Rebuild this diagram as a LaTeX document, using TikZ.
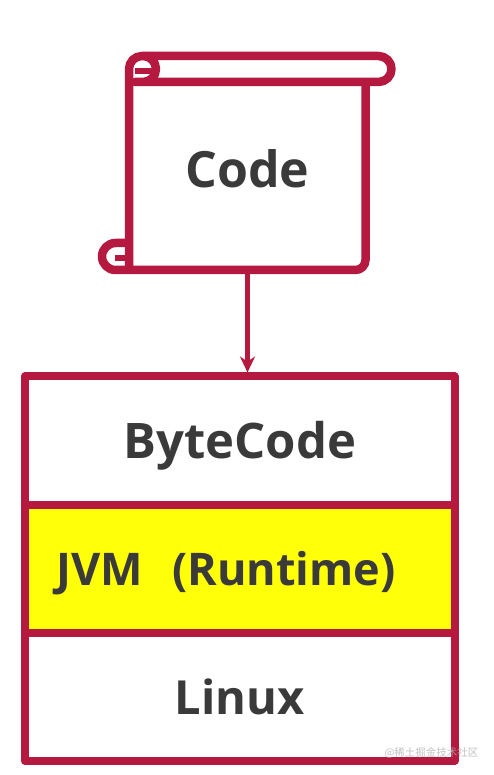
\documentclass[tikz,border=0pt]{standalone}
\usepackage{fontspec}
\setmainfont{Open Sans}
\newfontfamily\cjkfont{Noto Sans CJK SC}
\usetikzlibrary{arrows.meta, positioning}
\definecolor{scrollred}{HTML}{B5193F}
\definecolor{labelgray}{HTML}{3A3A3A}
\definecolor{layeryellow}{HTML}{FFFF0A}

\begin{document}
\begin{tikzpicture}[
    x=1pt, y=1pt,
    node distance=0pt,
    layer/.style={rectangle, draw=scrollred, line width=8pt, line join=round, outer sep=0pt, inner sep=0pt, minimum width=429.5pt, minimum height=128.5pt, text centered, text=labelgray, text height=35pt, text depth=0pt, font=\fontsize{49}{49}\selectfont\bfseries},
    scroll/.style={draw=scrollred, line width=8.5pt, line join=round},
    curl/.style={draw=scrollred, line width=6.5pt},
    arrow/.style={-{Stealth[length=16pt, width=15pt]}, draw=scrollred, line width=4.5pt, shorten >=4pt}
]
\useasboundingbox (0,0) rectangle (493,775);
\fill [white] (0,0) rectangle (493,775);
\node (code) [outer sep=0pt, inner sep=0pt, minimum width=236pt, minimum height=200pt, text=labelgray, text height=36pt, text depth=0pt, font=\fontsize{50}{50}\selectfont\bfseries] at (247.5,605) {Code};
\node (bytecode) [layer] at (239.75,334.25) {ByteCode};
\node (jvm) [layer, fill=layeryellow, font=\fontsize{45}{45}\selectfont\bfseries, text height=32pt, below=of bytecode] {JVM\hspace{29pt}(Runtime)\hspace*{27pt}};
\node (linux) [layer, minimum height=127.5pt, font=\fontsize{47}{47}\selectfont\bfseries, text height=34pt, below=of jvm] {Linux};
% scroll outline
\draw [scroll] (129,505) -- (129,706) arc[start angle=180, end angle=90, radius=13] -- (378.5,719) arc[start angle=90, end angle=-90, radius=13] -- (135,693) -- (143,693) arc[start angle=-90, end angle=90, radius=13];
\draw [scroll] (365.5,693) -- (365.5,515) arc[start angle=0, end angle=-90, radius=10] -- (115.5,505) arc[start angle=-90, end angle=-270, radius=13.5] -- (129,532);
% curls
\draw [curl] (135,704) -- (156,704);
\draw [curl] (129,517) -- (115,517);
\draw [arrow] (code.south) -- (code.south |- bytecode.north);
\node (mark) [text=black!30, opacity=0.8, font=\fontsize{10.5}{10.5}\selectfont\cjkfont] at (431.5,22) {@稀土掘金技术社区};
\end{tikzpicture}
\end{document}
